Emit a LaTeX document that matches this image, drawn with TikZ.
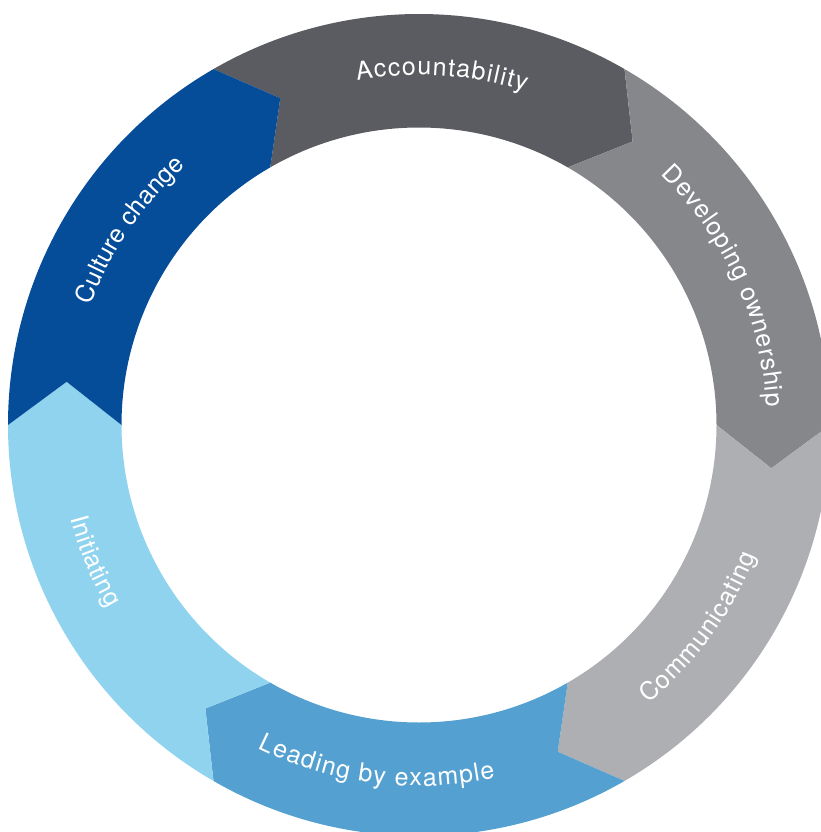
\documentclass[tikz,border=0pt]{standalone}
\usepackage{fontspec}
\newfontfamily\labelfont{TeX Gyre Heros}
\usetikzlibrary{decorations.text}
\definecolor{accC}{HTML}{5B5C61}
\definecolor{devC}{HTML}{86878B}
\definecolor{comC}{HTML}{AEAFB2}
\definecolor{leadC}{HTML}{54A0D1}
\definecolor{initC}{HTML}{8FD3EF}
\definecolor{cultC}{HTML}{054C99}
\tikzset{
  lbl/.style={decorate, decoration={text along path, text align=fit to path,
    text={|\labelfont\fontsize{25}{25}\selectfont\color{white}|#1}}}
}
\begin{document}
\begin{tikzpicture}[x=1pt,y=1pt]
\useasboundingbox (0,-832) rectangle (821,0);
\begin{scope}[shift={(419,-425)}]
\foreach \s/\c in {120/accC, 60/devC, 0/comC, -60/leadC, -120/initC, 180/cultC}{
  \fill[\c] (\s:411pt) arc[start angle=\s, end angle=\s-60, radius=411pt]
     -- ({\s-67}:355pt) -- ({\s-60}:297.5pt)
     arc[start angle=\s-60, end angle=\s, radius=297.5pt]
     -- ({\s-7}:355pt) -- cycle;
}
\path[lbl=Accountability] (100.2:350pt) arc[start angle=100.2, end angle=72.3, radius=350pt];
\path[lbl=Developing ownership] (46:348pt) arc[start angle=46, end angle=3, radius=348pt];
\path[lbl=Culture change] (160:349pt) arc[start angle=160, end angle=132, radius=349pt];
\path[lbl=Communicating] (-50.5:361pt) arc[start angle=-50.5, end angle=-21.2, radius=361pt];
\path[lbl=Leading by example] (-116.5:361pt) arc[start angle=-116.5, end angle=-77.8, radius=361pt];
\path[lbl=Initiating] (-165:361pt) arc[start angle=-165, end angle=-149.5, radius=361pt];
\end{scope}
\end{tikzpicture}
\end{document}
